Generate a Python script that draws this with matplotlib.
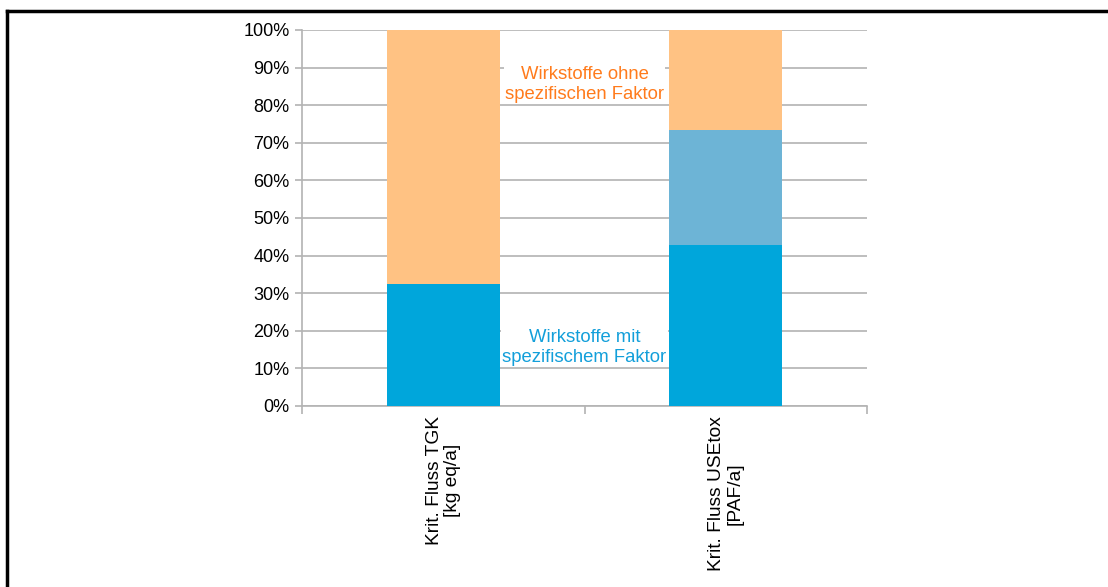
import matplotlib.pyplot as plt
from matplotlib.lines import Line2D

plt.rcParams['font.family'] = ['Liberation Sans', 'DejaVu Sans']

categories = ['Krit. Fluss TGK\n[kg eq/a]', 'Krit. Fluss USEtox\n[PAF/a]']
mit_faktor = [32.5, 42.8]
zusatz = [0.0, 30.6]
ohne_faktor = [67.5, 26.6]
yticks = list(range(0, 101, 10))

c_blue = '#00a6db'
c_light = '#6db4d6'
c_orange = '#ffc283'

fig = plt.figure(figsize=(11.08, 5.87), dpi=100)
ax = fig.add_axes([302 / 1108, 1 - 406 / 587, 565 / 1108, 376 / 587])

x = range(len(categories))
w = 0.40
ax.bar(x, mit_faktor, w, color=c_blue, zorder=3)
ax.bar(x, zusatz, w, bottom=mit_faktor, color=c_light, zorder=3)
bottom2 = [a + b for a, b in zip(mit_faktor, zusatz)]
ax.bar(x, ohne_faktor, w, bottom=bottom2, color=c_orange, zorder=3)

ax.set_xlim(-0.5, 1.5)
ax.set_ylim(0, 100)
ax.set_yticks(yticks)
ax.set_yticklabels([f'{t}%' for t in yticks], fontsize=13)
ax.yaxis.grid(True, color='#b3b3b3', linewidth=1.2, zorder=0)
ax.tick_params(axis='y', length=5, color='#b3b3b3', width=1.2, pad=4)

# category labels, turned upright, with ticks between categories
ax.set_xticks([-0.5, 0.5, 1.5])
ax.set_xticklabels([])
ax.tick_params(axis='x', length=6, color='#b3b3b3', width=1.2)
for i, lab in zip(x, categories):
    ax.text(i, -2.6, lab, rotation=90, ha='center', va='top', fontsize=13.8,
            multialignment='center', linespacing=1.1)

for s in ['top', 'right']:
    ax.spines[s].set_visible(False)
for s in ['left', 'bottom']:
    ax.spines[s].set_color('#b3b3b3')
    ax.spines[s].set_linewidth(1.2)

ax.text(0.5, 85.5, 'Wirkstoffe ohne\nspezifischen Faktor', ha='center', va='center',
        fontsize=13.3, color='#ff7b1c', linespacing=1.2,
        bbox=dict(facecolor='white', edgecolor='none', pad=1), zorder=4)
ax.text(0.5, 15.5, 'Wirkstoffe mit\nspezifischem Faktor', ha='center', va='center',
        fontsize=13.3, color='#129fda', linespacing=1.2,
        bbox=dict(facecolor='white', edgecolor='none', pad=1), zorder=4)

# outer frame lines
fig.add_artist(Line2D([7 / 1108, 7 / 1108], [0, 1 - 10.5 / 587], color='black', lw=2.5,
                      transform=fig.transFigure))
fig.add_artist(Line2D([7 / 1108, 1], [1 - 10.5 / 587, 1 - 10.5 / 587], color='black', lw=2.5,
                      transform=fig.transFigure))

fig.savefig('out.png', dpi=100)
